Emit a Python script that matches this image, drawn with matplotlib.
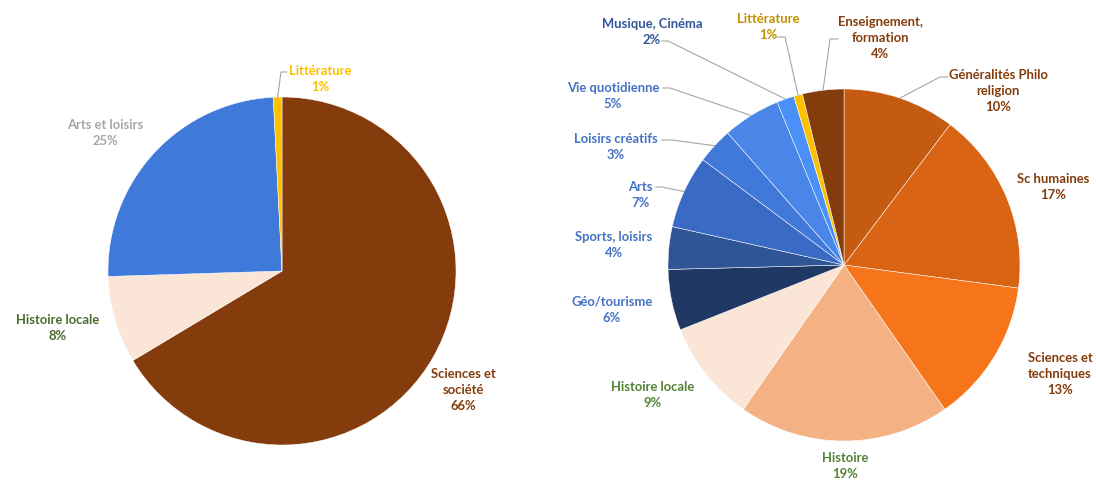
import numpy as np
import matplotlib

matplotlib.use("Agg")
import matplotlib.pyplot as plt

plt.rcParams["font.family"] = ["Lato", "DejaVu Sans"]

W, H = 1096, 482

# --- left pie: two-level overview ---
left_names = ["Sciences et\nsociété", "Histoire locale", "Arts et loisirs", "Littérature"]
left_values = [66.4, 8.1, 24.7, 0.8]
left_colors = ["#843C0C", "#FBE5D6", "#3F79D9", "#FFC000"]
left_text_colors = ["#843C0C", "#4E6B2E", "#A6A6A6", "#FFC000"]

# --- right pie: detailed breakdown ---
right_names = ["Généralités Philo\nreligion", "Sc humaines", "Sciences et\ntechniques",
               "Histoire", "Histoire locale", "Géo/tourisme", "Sports, loisirs", "Arts",
               "Loisirs créatifs", "Vie quotidienne", "Musique, Cinéma", "Littérature",
               "Enseignement,\nformation"]
right_values = [10.3, 16.8, 13.2, 19.4, 9.3, 5.6, 3.9, 6.7, 3.3, 5.3, 1.6, 0.8, 3.8]
right_colors = ["#C55A11", "#D96414", "#F7751A", "#F4B183", "#FBE5D6", "#203864",
                "#2F5597", "#3A6BC4", "#4179DB", "#4A86E8", "#4A90F8", "#FFC000", "#843C0C"]
right_text_colors = ["#843C0C", "#843C0C", "#843C0C", "#548235", "#548235", "#4472C4",
                     "#4472C4", "#4472C4", "#4472C4", "#4472C4", "#2F5597", "#BF9000",
                     "#843C0C"]

# layout (pixel coords, y from top)
LEFT_C, LEFT_R = (282, 271), 174
RIGHT_C, RIGHT_R = (844, 265), 176
left_pos = [(463, 390), (58, 328), (105, 133), (320, 79)]
right_pos = [(998, 91), (1053, 187), (1060, 374), (845, 466), (653, 395), (612, 310),
             (614, 245), (640, 195), (616, 147), (613, 96), (652, 32), (768, 27), (880, 38)]
# leader lines: index -> (start, corner)
left_leaders = {3: [(287, 72), (281, 72)]}
right_leaders = {0: [(948, 77), (940, 77)], 7: [(656, 187), (662, 187)],
                 8: [(662, 140), (672, 140)], 9: [(663, 88), (670, 88)],
                 10: [(662, 41), (668, 41)], 11: [(778, 37), (785, 37)],
                 12: [(838, 39), (830, 39)]}

fig = plt.figure(figsize=(W / 100, H / 100), dpi=100)
ax = fig.add_axes([0, 0, 1, 1])


def fy(y):
    return H - y


def draw(values, colors, names, tcolors, center, r, pos, leaders):
    cx, cy = center
    ax.pie(values, colors=colors, startangle=90, counterclock=False,
           center=(cx, fy(cy)), radius=r,
           wedgeprops=dict(edgecolor="white", linewidth=0.35))
    total = sum(values)
    cum = np.cumsum([0] + list(values))
    for i, name in enumerate(names):
        x, y = pos[i]
        ax.text(x, fy(y), f"{name}\n{round(values[i])}%", ha="center", va="center",
                fontsize=9.4, fontweight="bold", color=tcolors[i], linespacing=1.4)
        if i in leaders:
            mid = (cum[i] + cum[i + 1]) / 2 / total
            ang = np.deg2rad(90 - 360 * mid)
            ex, ey = cx + r * np.cos(ang), fy(cy) + r * np.sin(ang)
            pts = [(px, fy(py)) for px, py in leaders[i]] + [(ex, ey)]
            ax.plot([p[0] for p in pts], [p[1] for p in pts], color="#A6A6A6", lw=0.8)


draw(left_values, left_colors, left_names, left_text_colors, LEFT_C, LEFT_R,
     left_pos, left_leaders)
draw(right_values, right_colors, right_names, right_text_colors, RIGHT_C, RIGHT_R,
     right_pos, right_leaders)

ax.set_xlim(0, W)
ax.set_ylim(0, H)
ax.set_aspect("equal")
ax.axis("off")
fig.savefig("out.png", dpi=100, facecolor="white")
